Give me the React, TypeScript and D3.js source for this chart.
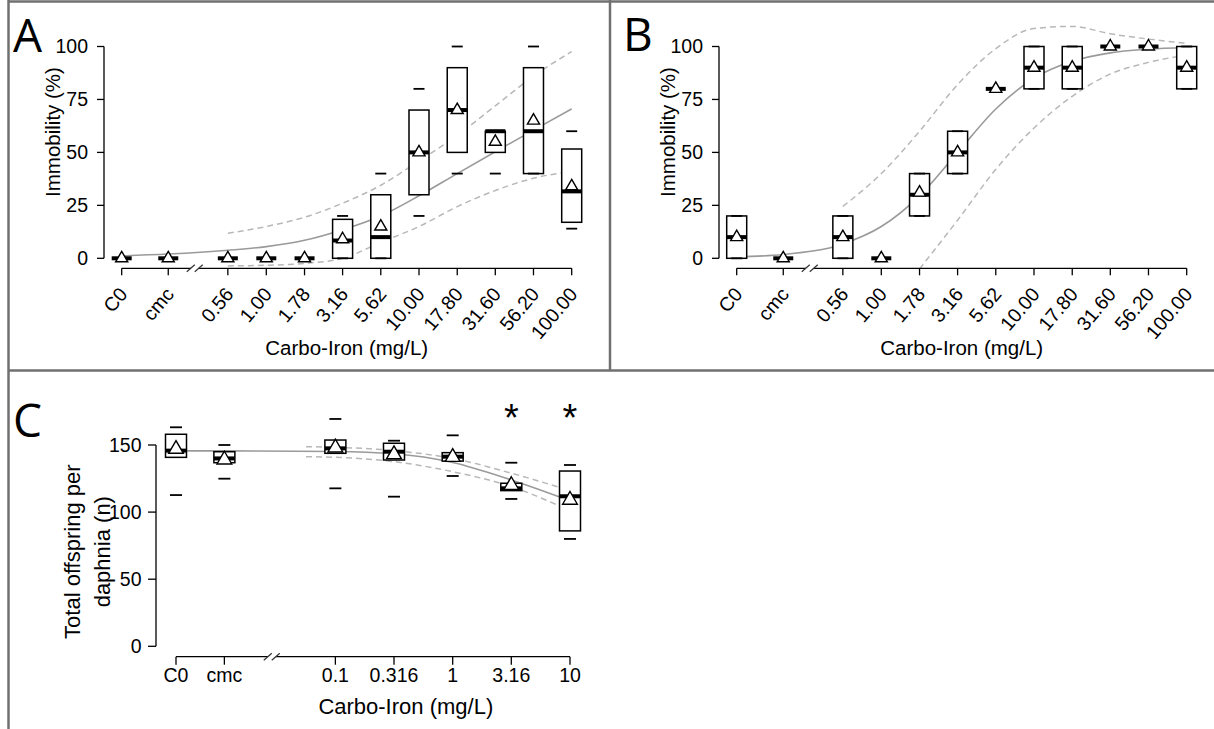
import React from "react";
import * as d3 from "d3";

// ---------------- Panel A (immobility, test 1) ----------------
const labelsA = ["C0", "cmc", "0.56", "1.00", "1.78", "3.16", "5.62", "10.00", "17.80", "31.60", "56.20", "100.00"];
// log-axis positions (controls are placed left of the axis break)
const posA = [0.113, 0.228, 0.56, 1, 1.78, 3.16, 5.62, 10, 17.8, 31.6, 56.2, 100];
const q1A = [0, 0, 0, 0, 0, 0, 0, 30, 50, 50, 40, 17];
const q3A = [0, 0, 0, 0, 0, 18.4, 30, 70, 90, 60, 90, 51.6];
const medA = [0, 0, 0, 0, 0, 8.4, 10, 50, 70, 60, 60, 31.6];
const meanA = [0, 0, 0, 0, 0, 9, 15, 50, 70, 55, 65, 34];
const minA = [0, 0, 0, 0, 0, 0, 0, 20, 40, 40, 40, 14];
const maxA = [0, 0, 0, 0, 0, 20, 40, 80, 100, 60, 100, 60];
const fitA = [1.1, 2.0, 3.8, 5.5, 8.5, 13.5, 20, 29.5, 40, 50.3, 60.5, 70.5];
const ciPosA = [0.56, 1, 1.78, 3.16, 5.62, 10, 17.8, 31.6, 56.2, 100];
const upperA = [11.8, 15, 19.4, 26, 34.5, 46, 58, 72, 86, 97.6];
const lowerA = [-3.6, -3.3, -2.4, 0, 7.5, 15, 24.4, 32, 37.8, 41];

// ---------------- Panel B (immobility, test 2) ----------------
const labelsB = ["C0", "cmc", "0.56", "1.00", "1.78", "3.16", "5.62", "10.00", "17.80", "31.60", "56.20", "100.00"];
const posB = [0.113, 0.228, 0.56, 1, 1.78, 3.16, 5.62, 10, 17.8, 31.6, 56.2, 100];
const q1B = [0, 0, 0, 0, 20, 40, 80, 80, 80, 100, 100, 80];
const q3B = [20, 0, 20, 0, 40, 60, 80, 100, 100, 100, 100, 100];
const medB = [10, 0, 10, 0, 30, 50, 80, 90, 90, 100, 100, 90];
const meanB = [10, 0, 10, 0, 31, 50, 80, 90, 90, 100, 100, 90];
const minB = [0, 0, 0, 0, 20, 40, 80, 80, 80, 100, 100, 80];
const maxB = [20, 0, 20, 0, 40, 60, 80, 100, 100, 100, 100, 100];
const fitB = [0.7, 1.8, 6.8, 15, 29.5, 50, 70.5, 85, 93, 97, 98.7, 99.5];
const upPosB = [0.56, 1, 1.78, 3.16, 5.62, 10, 17.8, 31.6, 56.2, 100];
const upperB = [24.5, 40, 60, 82, 99, 108.5, 109.5, 106, 103.5, 101.5];
const loPosB = [1.78, 3.16, 5.62, 10, 17.8, 31.6, 56.2, 100];
const lowerB = [-5, 18, 42, 61.5, 76.5, 87, 92.5, 96];

// ---------------- Panel C (reproduction) ----------------
const labelsC = ["C0", "cmc", "0.1", "0.316", "1", "3.16", "10"];
const posC = [0.00438, 0.01132, 0.1, 0.316, 1, 3.16, 10];
const q1C = [140.8, 136.8, 143.8, 138.8, 138, 116, 86];
const q3C = [158, 145, 153.7, 151.3, 144.3, 121.5, 130.6];
const medC = [145.8, 140, 147.5, 145, 141.3, 117.7, 111.8];
const meanC = [147, 139, 148, 143, 141, 120, 109];
const minC = [112.7, 124.9, 117.7, 111.5, 126.9, 109.8, 80];
const maxC = [163.2, 150, 169.4, 153.2, 157.2, 136.8, 135.1];
const fitC = [145.6, 145.6, 145.2, 143.5, 137, 124, 108.5];
const ciPosC = [0.0562, 0.1, 0.316, 1, 3.16, 10];
const upperC = [148.7, 148.3, 145.8, 140, 129, 116];
const lowerC = [141.3, 140.8, 137.6, 130.1, 119, 101];
const signifC = [false, false, false, false, false, true, true];

const yTicksAB = [0, 25, 50, 75, 100];
const yTicksC = [0, 50, 100, 150];

const FONT = "'Liberation Sans', Arial, Helvetica, sans-serif";

type PanelData = {
  labels: string[]; pos: number[]; q1: number[]; q3: number[]; med: number[]; mean: number[];
  min: number[]; max: number[]; fit: number[]; upPos: number[]; upper: number[]; loPos: number[]; lower: number[];
  yTicks: number[]; yDomain: [number, number]; breakPos: number; signif?: boolean[];
};

type Layout = {
  dx: number; xRange: [number, number]; yRange: [number, number]; yAxisX: number; xAxisY: number;
  boxW: number; dashW: number; triR: number; rotated: boolean; tickLen: number; tickFont: number;
  yLabelGap: number; titleFont: number; xTitle: [number, number]; yTitleLines: { text: string; x: number }[]; yTitleY: number;
  letter: string; letterPos: [number, number];
};

function Panel({ d, L }: { d: PanelData; L: Layout }) {
  const x = d3.scaleLog().domain([d.pos[0], d.pos[d.pos.length - 1]]).range(L.xRange);
  const y = d3.scaleLinear().domain(d.yDomain).range(L.yRange);
  const line = d3.line<[number, number]>().x((p) => x(p[0])).y((p) => y(p[1])).curve(d3.curveMonotoneX);
  const zip = (p: number[], v: number[]) => p.map((pp, i) => [pp, v[i]] as [number, number]);
  const r = L.triR;
  const tri = `M0,${-r}L${r * 0.866},${r / 2}L${-r * 0.866},${r / 2}Z`;
  const bx = x(d.breakPos);
  const ay = L.xAxisY;
  const yTop = y(d.yTicks[d.yTicks.length - 1]);
  const yBot = y(d.yTicks[0]);
  return (
    <g transform={`translate(${L.dx},0)`} fontFamily={FONT}>
      {/* panel letter */}
      <text x={L.letterPos[0]} y={L.letterPos[1]} fontSize={46} fontFamily="'Open Sans', 'DejaVu Sans', sans-serif" fill="#000">
        {L.letter}
      </text>
      {/* fitted curve and confidence band */}
      <path d={line(zip(d.upPos, d.upper)) || ""} fill="none" stroke="#b8b8b8" strokeWidth={1.5} strokeDasharray="6,4" />
      <path d={line(zip(d.loPos, d.lower)) || ""} fill="none" stroke="#b8b8b8" strokeWidth={1.5} strokeDasharray="6,4" />
      <path d={line(zip(d.pos, d.fit)) || ""} fill="none" stroke="#9a9a9a" strokeWidth={1.6} />
      {/* boxes */}
      {d.pos.map((p, i) => {
        const cx = x(p);
        const top = y(d.q3[i]);
        const bot = y(d.q1[i]);
        return (
          <g key={"b" + i}>
            <rect x={cx - L.boxW / 2} y={top} width={L.boxW} height={Math.max(0, bot - top)} fill="#fff" stroke="#000" strokeWidth={1.5} />
            <line x1={cx - L.dashW / 2} x2={cx + L.dashW / 2} y1={y(d.max[i])} y2={y(d.max[i])} stroke="#000" strokeWidth={1.8} />
            <line x1={cx - L.dashW / 2} x2={cx + L.dashW / 2} y1={y(d.min[i])} y2={y(d.min[i])} stroke="#000" strokeWidth={1.8} />
            <line x1={cx - L.boxW / 2} x2={cx + L.boxW / 2} y1={y(d.med[i])} y2={y(d.med[i])} stroke="#000" strokeWidth={4} />
            <path d={tri} transform={`translate(${cx},${y(d.mean[i])})`} fill="#fff" stroke="#000" strokeWidth={1.4} />
            {d.signif && d.signif[i] ? (
              <text x={cx} y={431} textAnchor="middle" fontSize={38} fill="#000">*</text>
            ) : null}
          </g>
        );
      })}
      {/* y axis */}
      <line x1={L.yAxisX} x2={L.yAxisX} y1={yTop} y2={yBot} stroke="#000" strokeWidth={1.3} />
      {d.yTicks.map((t) => (
        <g key={"yt" + t}>
          <line x1={L.yAxisX - L.tickLen} x2={L.yAxisX} y1={y(t)} y2={y(t)} stroke="#000" strokeWidth={1.3} />
          <text x={L.yAxisX - L.yLabelGap} y={y(t)} dy="0.35em" textAnchor="end" fontSize={L.tickFont} fill="#000">
            {t}
          </text>
        </g>
      ))}
      {/* x axis */}
      <line x1={x(d.pos[0])} x2={x(d.pos[d.pos.length - 1])} y1={ay} y2={ay} stroke="#000" strokeWidth={1.3} />
      {d.pos.map((p, i) => (
        <g key={"xt" + i}>
          <line x1={x(p)} x2={x(p)} y1={ay} y2={ay + L.tickLen} stroke="#000" strokeWidth={1.3} />
          {L.rotated ? (
            <text transform={`translate(${x(p) + 1.5},${ay + 22}) rotate(-50)`} dy="0.35em" textAnchor="end" fontSize={L.tickFont} fill="#000">
              {d.labels[i]}
            </text>
          ) : (
            <text x={x(p)} y={ay + 25.5} textAnchor="middle" fontSize={L.tickFont} fill="#000">
              {d.labels[i]}
            </text>
          )}
        </g>
      ))}
      {/* axis break */}
      <polygon points={`${bx - 8},${ay + 3.5} ${bx},${ay - 3.5} ${bx + 8},${ay - 3.5} ${bx},${ay + 3.5}`} fill="#fff" stroke="none" />
      <line x1={bx - 8} y1={ay + 3.5} x2={bx} y2={ay - 3.5} stroke="#333" strokeWidth={1.2} />
      <line x1={bx} y1={ay + 3.5} x2={bx + 8} y2={ay - 3.5} stroke="#333" strokeWidth={1.2} />
      {/* titles */}
      <text x={L.xTitle[0]} y={L.xTitle[1]} textAnchor="middle" fontSize={L.titleFont} fill="#000">
        Carbo-Iron (mg/L)
      </text>
      {L.yTitleLines.map((ln) => (
        <text key={ln.text} transform={`translate(${ln.x},${L.yTitleY}) rotate(-90)`} textAnchor="middle" fontSize={L.titleFont} fill="#000">
          {ln.text}
        </text>
      ))}
    </g>
  );
}

const dataA: PanelData = {
  labels: labelsA, pos: posA, q1: q1A, q3: q3A, med: medA, mean: meanA, min: minA, max: maxA,
  fit: fitA, upPos: ciPosA, upper: upperA, loPos: ciPosA, lower: lowerA, yTicks: yTicksAB, yDomain: [0, 100], breakPos: 0.34,
};
const dataB: PanelData = {
  labels: labelsB, pos: posB, q1: q1B, q3: q3B, med: medB, mean: meanB, min: minB, max: maxB,
  fit: fitB, upPos: upPosB, upper: upperB, loPos: loPosB, lower: lowerB, yTicks: yTicksAB, yDomain: [0, 100], breakPos: 0.34,
};
const dataC: PanelData = {
  labels: labelsC, pos: posC, q1: q1C, q3: q3C, med: medC, mean: meanC, min: minC, max: maxC,
  fit: fitC, upPos: ciPosC, upper: upperC, loPos: ciPosC, lower: lowerC, yTicks: yTicksC, yDomain: [0, 150], breakPos: 0.0287,
  signif: signifC,
};

const layoutA: Layout = {
  dx: 0, xRange: [121.7, 571.7], yRange: [258.3, 46.5], yAxisX: 104, xAxisY: 268.3, boxW: 20, dashW: 11, triR: 7,
  rotated: true, tickLen: 7, tickFont: 19.5, yLabelGap: 16, titleFont: 20.5, xTitle: [346.7, 355],
  yTitleLines: [{ text: "Immobility (%)", x: 59.5 }], yTitleY: 132, letter: "A", letterPos: [13, 52],
};
const layoutB: Layout = { ...layoutA, dx: 615, letter: "B", letterPos: [8, 51] };
const layoutC: Layout = {
  dx: 0, xRange: [176, 570], yRange: [646.3, 445], yAxisX: 156, xAxisY: 656.7, boxW: 21, dashW: 12, triR: 8.5,
  rotated: false, tickLen: 8, tickFont: 19.5, yLabelGap: 14.5, titleFont: 22, xTitle: [405.8, 714],
  yTitleLines: [{ text: "Total offspring per", x: 79.5 }, { text: "daphnia (n)", x: 109.5 }], yTitleY: 551.7,
  letter: "C", letterPos: [13, 437],
};

export default function App() {
  return (
    <svg width={1214} height={729} style={{ position: "absolute", left: 0, top: 0, background: "#fff" }}>
      <rect x={0} y={0} width={1214} height={729} fill="#fff" />
      {/* table borders */}
      <line x1={8.5} x2={1214} y1={1.5} y2={1.5} stroke="#707070" strokeWidth={2.5} />
      <line x1={8.5} x2={8.5} y1={0} y2={729} stroke="#707070" strokeWidth={2.5} />
      <line x1={610} x2={610} y1={0} y2={371} stroke="#707070" strokeWidth={2.5} />
      <line x1={8.5} x2={1214} y1={370.5} y2={370.5} stroke="#707070" strokeWidth={2.5} />
      <Panel d={dataA} L={layoutA} />
      <Panel d={dataB} L={layoutB} />
      <Panel d={dataC} L={layoutC} />
    </svg>
  );
}
